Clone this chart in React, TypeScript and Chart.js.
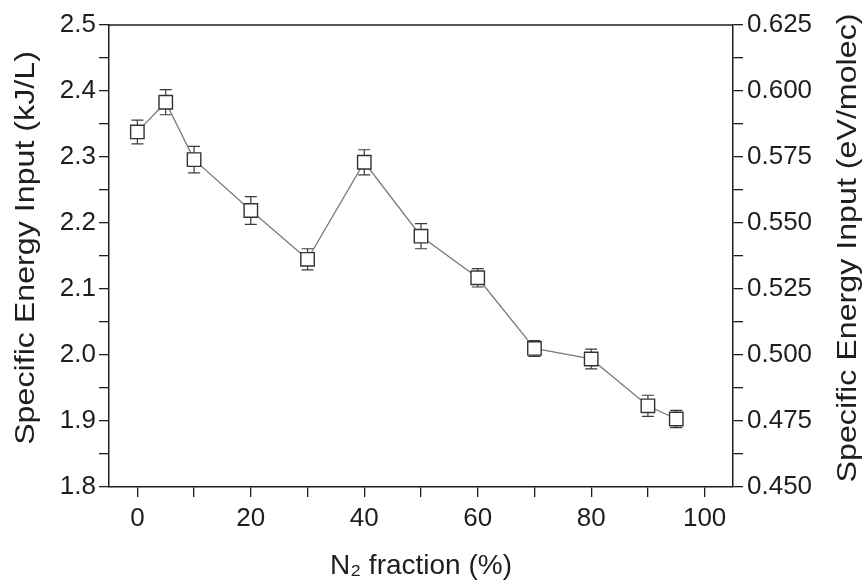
import React, { useEffect, useRef } from "react";
import { Chart, registerables } from "chart.js";

Chart.register(...registerables);

const n2Fraction = [0, 5, 10, 20, 30, 40, 50, 60, 70, 80, 90, 95];
const seiKJperL = [2.338, 2.383, 2.296, 2.219, 2.145, 2.292, 2.180, 2.117, 2.010, 1.994, 1.923, 1.903];
const seiErr = [0.018, 0.019, 0.02, 0.021, 0.016, 0.019, 0.019, 0.014, 0.012, 0.015, 0.016, 0.013];

const xTickValues = [0, 10, 20, 30, 40, 50, 60, 70, 80, 90, 100];
const xTickLabels = ["0", "", "20", "", "40", "", "60", "", "80", "", "100"];
const yTickValues = [1.8, 1.85, 1.9, 1.95, 2.0, 2.05, 2.1, 2.15, 2.2, 2.25, 2.3, 2.35, 2.4, 2.45, 2.5];
const yTickLabels = ["1.8", "", "1.9", "", "2.0", "", "2.1", "", "2.2", "", "2.3", "", "2.4", "", "2.5"];
const y2TickValues = [0.45, 0.4625, 0.475, 0.4875, 0.5, 0.5125, 0.525, 0.5375, 0.55, 0.5625, 0.575, 0.5875, 0.6, 0.6125, 0.625];
const y2TickLabels = ["0.450", "", "0.475", "", "0.500", "", "0.525", "", "0.550", "", "0.575", "", "0.600", "", "0.625"];

const xTitle = "N₂ fraction (%)";
const yTitle = "Specific Energy Input (kJ/L)";
const y2Title = "Specific Energy Input (eV/molec)";

const FONT = "'Liberation Sans', Arial, sans-serif";
const AXIS_COLOR = "#1e1e1e";
const TICK_SIZE = 26;
const TITLE_SIZE = 28;
const Y_TITLE_SIZE = 28;
const Y_TITLE_STRETCH = 1.15;

const errorBars = {
  id: "errorBars",
  beforeDatasetsDraw(chart: any) {
    const { ctx, scales } = chart;
    const x = scales.x;
    const y = scales.y;
    ctx.save();
    ctx.strokeStyle = "#3a3a3a";
    ctx.lineWidth = 1.2;
    n2Fraction.forEach((xv, i) => {
      const px = x.getPixelForValue(xv);
      const top = y.getPixelForValue(seiKJperL[i] + seiErr[i]);
      const bot = y.getPixelForValue(seiKJperL[i] - seiErr[i]);
      ctx.beginPath();
      ctx.moveTo(px, top);
      ctx.lineTo(px, bot);
      ctx.moveTo(px - 6, top);
      ctx.lineTo(px + 6, top);
      ctx.moveTo(px - 6, bot);
      ctx.lineTo(px + 6, bot);
      ctx.stroke();
    });
    ctx.restore();
  },
};

const drawVerticalTitle = (ctx: any, text: string, cx: number, cy: number) => {
  ctx.save();
  ctx.translate(cx, cy);
  ctx.rotate(-Math.PI / 2);
  ctx.scale(Y_TITLE_STRETCH, 1);
  ctx.fillStyle = AXIS_COLOR;
  ctx.font = `${Y_TITLE_SIZE}px ${FONT}`;
  ctx.textAlign = "center";
  ctx.textBaseline = "middle";
  ctx.fillText(text, 0, 0);
  ctx.restore();
};

const frameAndTitles = {
  id: "frameAndTitles",
  afterDraw(chart: any) {
    const { ctx, chartArea, scales } = chart;
    ctx.save();
    ctx.strokeStyle = AXIS_COLOR;
    ctx.lineWidth = 1.5;
    ctx.beginPath();
    ctx.moveTo(chartArea.left, chartArea.top);
    ctx.lineTo(chartArea.right, chartArea.top);
    ctx.stroke();
    ctx.restore();
    const cy = (chartArea.top + chartArea.bottom) / 2 - 8;
    drawVerticalTitle(ctx, yTitle, scales.y.left + 26, cy);
    drawVerticalTitle(ctx, y2Title, scales.y2.right - 16, cy);
  },
};

const tickFont = { family: FONT, size: TICK_SIZE };
const gridOpts = {
  drawOnChartArea: false,
  drawTicks: true,
  tickLength: 10,
  color: AXIS_COLOR,
  lineWidth: 1.3,
};
const borderOpts = { display: true, color: AXIS_COLOR, width: 1.5 };

export default function App() {
  const canvasRef = useRef<HTMLCanvasElement | null>(null);

  useEffect(() => {
    if (!canvasRef.current) return;
    const chart = new Chart(canvasRef.current, {
      type: "line",
      data: {
        datasets: [
          {
            data: n2Fraction.map((xv, i) => ({ x: xv, y: seiKJperL[i] })),
            borderColor: "#7a7a7a",
            borderWidth: 1.3,
            tension: 0,
            pointStyle: "rect",
            pointRadius: 9.5,
            pointBorderColor: "#333333",
            pointBorderWidth: 1.4,
            pointBackgroundColor: "#ffffff",
            yAxisID: "y",
          },
        ],
      },
      options: {
        animation: false,
        responsive: true,
        maintainAspectRatio: false,
        layout: { padding: { top: 25, left: 0, right: 0, bottom: 0 } },
        plugins: {
          legend: { display: false },
          tooltip: { enabled: false },
        },
        scales: {
          x: {
            type: "linear",
            min: -5,
            max: 105,
            afterBuildTicks: (s: any) => {
              s.ticks = xTickValues.map((v) => ({ value: v }));
            },
            afterFit: (s: any) => {
              s.height = 98;
            },
            ticks: {
              autoSkip: false,
              maxRotation: 0,
              padding: 6,
              color: AXIS_COLOR,
              font: tickFont,
              callback: (_v: any, i: number) => xTickLabels[i],
            },
            grid: gridOpts,
            border: borderOpts,
            title: {
              display: true,
              text: xTitle,
              color: AXIS_COLOR,
              font: { family: FONT, size: TITLE_SIZE },
              padding: { top: 0, bottom: 2 },
            },
          },
          y: {
            type: "linear",
            position: "left",
            min: 1.8,
            max: 2.5,
            afterBuildTicks: (s: any) => {
              s.ticks = yTickValues.map((v) => ({ value: v }));
            },
            afterFit: (s: any) => {
              s.width = 109;
            },
            ticks: {
              autoSkip: false,
              padding: 3,
              color: AXIS_COLOR,
              font: tickFont,
              callback: (_v: any, i: number) => yTickLabels[i],
            },
            grid: gridOpts,
            border: borderOpts,
            title: { display: false, text: yTitle },
          },
          y2: {
            type: "linear",
            position: "right",
            min: 0.45,
            max: 0.625,
            afterBuildTicks: (s: any) => {
              s.ticks = y2TickValues.map((v) => ({ value: v }));
            },
            afterFit: (s: any) => {
              s.width = 131;
            },
            ticks: {
              autoSkip: false,
              padding: 4,
              color: AXIS_COLOR,
              font: tickFont,
              callback: (_v: any, i: number) => y2TickLabels[i],
            },
            grid: gridOpts,
            border: borderOpts,
            title: { display: false, text: y2Title },
          },
        },
      },
      plugins: [errorBars, frameAndTitles],
    } as any);
    return () => chart.destroy();
  }, []);

  return (
    <div style={{ position: "absolute", left: 0, top: 0, width: 864, height: 585, background: "#ffffff" }}>
      <canvas ref={canvasRef} />
    </div>
  );
}
